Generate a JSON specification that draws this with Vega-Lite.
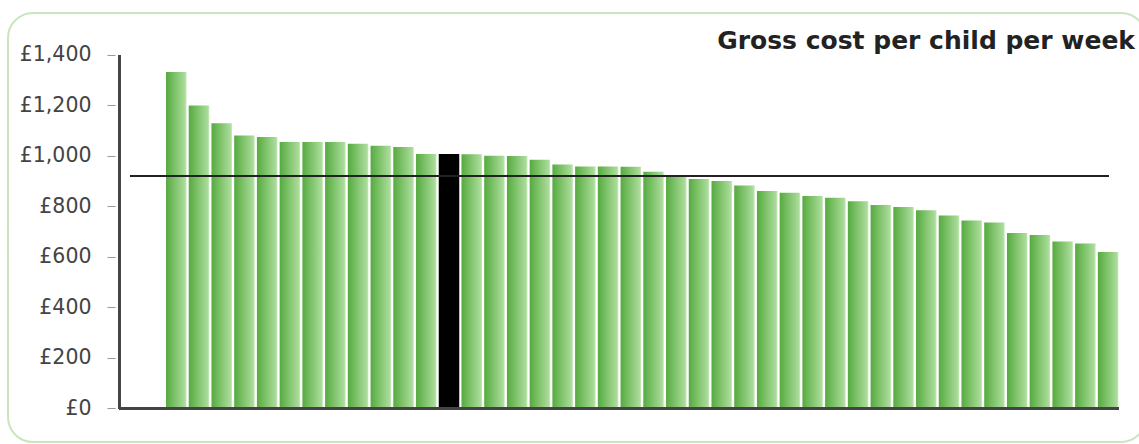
{
  "$schema": "https://vega.github.io/schema/vega-lite/v6.json",
  "width": 1138,
  "height": 429,
  "autosize": {"type": "none"},
  "padding": {"left": 8, "top": 13, "right": -7, "bottom": 2},
  "background": "white",
  "config": {
    "font": "DejaVu Sans",
    "view": {"stroke": "#c9e5bf", "strokeWidth": 2, "cornerRadius": 25}
  },
  "title": {
    "text": "Gross cost per child per week",
    "anchor": "end",
    "frame": "group",
    "orient": "top",
    "offset": -61,
    "baseline": "alphabetic",
    "dx": -11,
    "fontSize": 25,
    "fontWeight": "bold",
    "color": "#222222",
    "font": "DejaVu Sans"
  },
  "data": {
    "values": [
      {"rank": 1, "cost": 1333, "highlight": false},
      {"rank": 2, "cost": 1200, "highlight": false},
      {"rank": 3, "cost": 1130, "highlight": false},
      {"rank": 4, "cost": 1081, "highlight": false},
      {"rank": 5, "cost": 1075, "highlight": false},
      {"rank": 6, "cost": 1055, "highlight": false},
      {"rank": 7, "cost": 1055, "highlight": false},
      {"rank": 8, "cost": 1055, "highlight": false},
      {"rank": 9, "cost": 1048, "highlight": false},
      {"rank": 10, "cost": 1040, "highlight": false},
      {"rank": 11, "cost": 1035, "highlight": false},
      {"rank": 12, "cost": 1008, "highlight": false},
      {"rank": 13, "cost": 1008, "highlight": true},
      {"rank": 14, "cost": 1007, "highlight": false},
      {"rank": 15, "cost": 1001, "highlight": false},
      {"rank": 16, "cost": 1000, "highlight": false},
      {"rank": 17, "cost": 985, "highlight": false},
      {"rank": 18, "cost": 966, "highlight": false},
      {"rank": 19, "cost": 958, "highlight": false},
      {"rank": 20, "cost": 958, "highlight": false},
      {"rank": 21, "cost": 957, "highlight": false},
      {"rank": 22, "cost": 937, "highlight": false},
      {"rank": 23, "cost": 918, "highlight": false},
      {"rank": 24, "cost": 909, "highlight": false},
      {"rank": 25, "cost": 901, "highlight": false},
      {"rank": 26, "cost": 883, "highlight": false},
      {"rank": 27, "cost": 861, "highlight": false},
      {"rank": 28, "cost": 854, "highlight": false},
      {"rank": 29, "cost": 841, "highlight": false},
      {"rank": 30, "cost": 834, "highlight": false},
      {"rank": 31, "cost": 820, "highlight": false},
      {"rank": 32, "cost": 806, "highlight": false},
      {"rank": 33, "cost": 798, "highlight": false},
      {"rank": 34, "cost": 785, "highlight": false},
      {"rank": 35, "cost": 764, "highlight": false},
      {"rank": 36, "cost": 744, "highlight": false},
      {"rank": 37, "cost": 736, "highlight": false},
      {"rank": 38, "cost": 695, "highlight": false},
      {"rank": 39, "cost": 687, "highlight": false},
      {"rank": 40, "cost": 661, "highlight": false},
      {"rank": 41, "cost": 653, "highlight": false},
      {"rank": 42, "cost": 619, "highlight": false}
    ]
  },
  "layer": [
    {
      "transform": [{"filter": "!datum.highlight"}],
      "mark": {
        "type": "bar",
        "width": 20.5,
        "fill": {
          "gradient": "linear",
          "x1": 0, "y1": 0, "x2": 1, "y2": 0,
          "stops": [
            {"offset": 0, "color": "#56aa40"},
            {"offset": 0.45, "color": "#7fc36b"},
            {"offset": 0.92, "color": "#aadb9a"},
            {"offset": 1, "color": "#c9eabd"}
          ]
        }
      },
      "encoding": {
        "x": {"field": "rank", "type": "quantitative", "scale": {"domain": [-6.183, 43.447], "nice": false, "zero": false}, "axis": null},
        "y": {
          "field": "cost", "type": "quantitative",
          "scale": {"domain": [-133.5, 1566.4], "nice": false, "zero": false},
          "axis": {
            "offset": -107,
            "domain": false,
            "grid": false,
            "title": null,
            "values": [0, 200, 400, 600, 800, 1000, 1200, 1400],
            "labelExpr": "'£' + format(datum.value, ',')",
            "tickSize": 8,
            "tickColor": "#999999",
            "labelFontSize": 20.5,
            "labelColor": "#444444",
            "labelPadding": 16,
            "labelFont": "DejaVu Sans"
          }
        }
      }
    },
    {
      "transform": [{"filter": "datum.highlight"}],
      "mark": {"type": "bar", "width": 20.5, "fill": "#000000"},
      "encoding": {
        "x": {"field": "rank", "type": "quantitative", "scale": {"domain": [-6.183, 43.447], "nice": false, "zero": false}, "axis": null},
        "y": {"field": "cost", "type": "quantitative", "scale": {"domain": [-133.5, 1566.4], "nice": false, "zero": false}}
      }
    },
    {
      "mark": {"type": "rule", "color": "#444444", "strokeWidth": 2},
      "encoding": {
        "x": {"datum": -1.516, "type": "quantitative", "scale": {"domain": [-6.183, 43.447], "nice": false, "zero": false}},
        "y": {"datum": 0, "type": "quantitative", "scale": {"domain": [-133.5, 1566.4], "nice": false, "zero": false}},
        "y2": {"datum": 1400}
      }
    },
    {
      "mark": {"type": "rule", "color": "#444444", "strokeWidth": 2},
      "encoding": {
        "x": {"datum": -1.516, "type": "quantitative", "scale": {"domain": [-6.183, 43.447], "nice": false, "zero": false}},
        "x2": {"datum": 42.45},
        "y": {"datum": 0, "type": "quantitative", "scale": {"domain": [-133.5, 1566.4], "nice": false, "zero": false}}
      }
    },
    {
      "mark": {"type": "rule", "color": "#222222", "strokeWidth": 2},
      "encoding": {
        "x": {"datum": -1.006, "type": "quantitative", "scale": {"domain": [-6.183, 43.447], "nice": false, "zero": false}},
        "x2": {"datum": 42.02},
        "y": {"datum": 921, "type": "quantitative", "scale": {"domain": [-133.5, 1566.4], "nice": false, "zero": false}}
      }
    }
  ]
}
